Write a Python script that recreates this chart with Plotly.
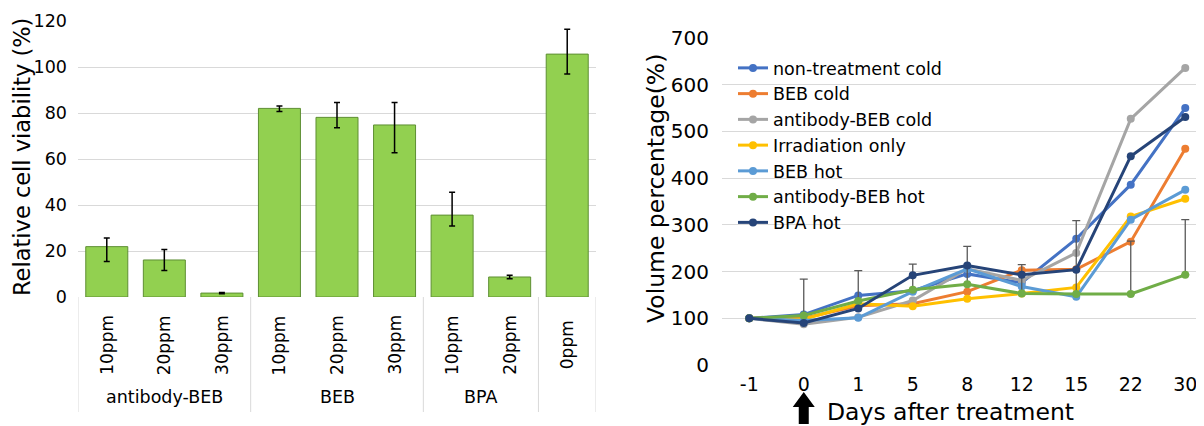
import plotly.graph_objects as go

# ---------------- data: left bar chart ----------------
bar_groups = ["antibody-BEB", "antibody-BEB", "antibody-BEB", "BEB", "BEB", "BEB", "BPA", "BPA", ""]
bar_labels = ["10ppm", "20ppm", "30ppm", "10ppm", "20ppm", "30ppm", "10ppm", "20ppm", "0ppm"]
viability = [21.9, 16.1, 1.7, 82.0, 78.1, 74.8, 35.6, 8.7, 105.6]
viab_err_plus = [3.7, 4.6, 0.3, 1.0, 6.5, 9.8, 9.9, 0.8, 10.8]
viab_err_minus = [6.5, 4.6, 0.3, 1.4, 4.5, 12.1, 4.7, 0.8, 8.6]

# ---------------- data: right line chart ----------------
days = ["-1", "0", "1", "5", "8", "12", "15", "22", "30"]
series_names = ["non-treatment cold", "BEB cold", "antibody-BEB cold", "Irradiation only",
                "BEB hot", "antibody-BEB hot", "BPA hot"]
non_treatment_cold = [100, 108, 149, 159, 195, 176, 270, 386, 550]
beb_cold = [100, 100, 127, 131, 157, 203, 205, 264, 463]
antibody_beb_cold = [100, 87, 102, 138, 206, 181, 240, 527, 636]
irradiation_only = [100, 98, 131, 126, 142, 153, 166, 318, 356]
beb_hot = [100, 95, 101, 157, 206, 168, 146, 311, 375]
antibody_beb_hot = [100, 106, 137, 161, 173, 153, 152, 152, 193]
bpa_hot = [100, 90, 121, 192, 213, 193, 204, 447, 531]
antibody_beb_hot_err = [0, 78, 65, 55, 81, 62, 157, 113, 118]
series_values = [non_treatment_cold, beb_cold, antibody_beb_cold, irradiation_only,
                 beb_hot, antibody_beb_hot, bpa_hot]
series_colors = ["#4472c4", "#ed7d31", "#a5a5a5", "#ffc000", "#5b9bd5", "#70ad47", "#264478"]

VW, VH = 1204, 426      # browser viewport
OFF = 8                 # default page body margin
W, H = VW - OFF, VH - OFF
FONT = "DejaVu Sans"


def px_x(p):
    return (p - OFF) / W


def px_y(p):
    return 1 - (p - OFF) / H


fig = go.Figure()

idx = list(range(len(bar_labels)))
fig.add_trace(go.Bar(
    x=idx, y=viability, width=0.73,
    marker=dict(color="#92d050", line=dict(color="#5e8f33", width=1)),
    error_y=dict(type="data", symmetric=False, array=viab_err_plus, arrayminus=viab_err_minus,
                 color="#000000", thickness=1.5, width=3),
    showlegend=False, xaxis="x", yaxis="y",
))

for name, vals, col in zip(series_names, series_values, series_colors):
    kw = {}
    if name == "antibody-BEB hot":
        kw["error_y"] = dict(type="data", symmetric=False, array=antibody_beb_hot_err,
                             arrayminus=[0] * len(days), color="#595959", thickness=1.3, width=4)
    fig.add_trace(go.Scatter(
        x=days, y=vals, name=name, mode="lines+markers",
        line=dict(color=col, width=3), marker=dict(color=col, size=8),
        xaxis="x2", yaxis="y2", **kw,
    ))

grid = "#d9d9d9"
fig.update_layout(
    width=W, height=H,
    margin=dict(l=0, r=0, t=0, b=0, pad=0, autoexpand=False),
    paper_bgcolor="white", plot_bgcolor="white",
    font=dict(family=FONT, color="#000000"),
    xaxis=dict(domain=[px_x(78), px_x(596)], range=[-0.5, len(bar_labels) - 0.5],
               showticklabels=False, showgrid=False, zeroline=False, anchor="y", automargin=False),
    yaxis=dict(domain=[px_y(297), px_y(21)], range=[0, 120], dtick=20,
               showgrid=True, gridcolor=grid, gridwidth=1, zeroline=False,
               tickfont=dict(size=17.5, family=FONT), ticks="", ticklabelstandoff=10,
               anchor="x", automargin=False),
    xaxis2=dict(domain=[px_x(722), 1], type="category", range=[-0.5, -0.5 + (VW - 722) / 54.5],
                showgrid=False, zeroline=False, ticks="", tickfont=dict(size=19, family=FONT),
                ticklabelstandoff=6, anchor="y2", automargin=False),
    yaxis2=dict(domain=[px_y(365), px_y(38)], range=[0, 700], dtick=100,
                showgrid=True, gridcolor=grid, gridwidth=1, zeroline=False,
                tickfont=dict(size=20, family=FONT), ticks="", ticklabelstandoff=12,
                anchor="x2", automargin=False),
    legend=dict(x=px_x(733), y=px_y(50), xanchor="left", yanchor="top",
                font=dict(size=17.5, family=FONT), bgcolor="rgba(0,0,0,0)",
                tracegroupgap=0, itemwidth=30),
)

annotations = []
shapes = []
# rotated category labels
for i, lab in enumerate(bar_labels):
    annotations.append(dict(x=i, xref="x", y=px_y(345), yref="paper", text=lab, textangle=-90,
                            showarrow=False, font=dict(size=17, family=FONT),
                            xanchor="center", yanchor="middle"))
# group labels and dividers
groups = []
for i, g in enumerate(bar_groups):
    if not groups or groups[-1][0] != g:
        groups.append([g, i, i])
    else:
        groups[-1][2] = i
for g, a, b in groups:
    if g:
        annotations.append(dict(x=(a + b) / 2, xref="x", y=px_y(397), yref="paper", text=g,
                                showarrow=False, font=dict(size=17.5, family=FONT),
                                xanchor="center", yanchor="middle"))
bounds = [groups[0][1] - 0.5] + [b + 0.5 for _, _, b in groups]
for bx in bounds:
    shapes.append(dict(type="line", xref="x", yref="paper", x0=bx, x1=bx,
                       y0=px_y(297), y1=px_y(412), line=dict(color=grid, width=1)))

# axis titles
annotations.append(dict(x=px_x(22), y=px_y(157), xref="paper", yref="paper",
                        text="Relative cell viability (%)", textangle=-90, showarrow=False,
                        font=dict(size=22.5, family=FONT), xanchor="center", yanchor="middle"))
annotations.append(dict(x=px_x(656), y=px_y(189), xref="paper", yref="paper",
                        text="Volume percentage(%)", textangle=-90, showarrow=False,
                        font=dict(size=23.5, family=FONT), xanchor="center", yanchor="middle"))
annotations.append(dict(x=px_x(950), y=px_y(412), xref="paper", yref="paper",
                        text="Days after treatment", showarrow=False,
                        font=dict(size=23.5, family=FONT), xanchor="center", yanchor="middle"))

# treatment arrow under day 0
shapes.append(dict(type="path", xref="x2", yref="paper", xsizemode="pixel", ysizemode="pixel",
                   xanchor=days.index("0"), yanchor=px_y(408),
                   path="M 0,16 L 11,1 L 5,1 L 5,-16 L -5,-16 L -5,1 L -11,1 Z",
                   fillcolor="#000000", line=dict(color="#000000", width=0)))

fig.update_layout(annotations=annotations, shapes=shapes)
fig.write_html("out.html")
